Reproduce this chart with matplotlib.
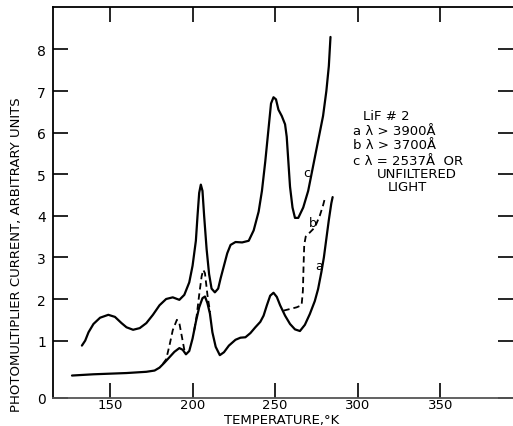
import matplotlib
matplotlib.use("Agg")
import matplotlib.pyplot as plt

# Curve c (2537 A or unfiltered light)
c_T = [133, 135, 137, 140, 144, 149, 153, 157, 160, 164, 168, 172, 176, 180, 184, 188, 192, 195, 198, 200,
       202, 203, 204, 205, 206, 207, 208.5, 210, 211.5, 213.5, 215.5, 217, 219, 221, 223, 226, 230, 234, 237,
       240, 242, 244, 246, 247.5, 249, 250.5, 252, 254, 256, 257, 258, 259, 260.5, 262, 264, 267, 270, 273,
       276, 279, 281, 282.5, 283.5]
c_v = [0.88, 1.0, 1.2, 1.4, 1.55, 1.62, 1.57, 1.42, 1.32, 1.26, 1.3, 1.42, 1.62, 1.85, 2.0, 2.04, 1.98, 2.1,
       2.4, 2.8, 3.4, 4.0, 4.55, 4.75, 4.6, 4.0, 3.2, 2.6, 2.25, 2.16, 2.25, 2.5, 2.8, 3.1, 3.3, 3.37, 3.36,
       3.4, 3.65, 4.1, 4.6, 5.3, 6.1, 6.7, 6.85, 6.8, 6.55, 6.4, 6.2, 5.9, 5.3, 4.7, 4.2, 3.95, 3.95, 4.2, 4.6,
       5.2, 5.8, 6.4, 7.0, 7.6, 8.3]

# Curve a (lambda > 3900 A)
a_T = [127, 140, 160, 172, 177, 180, 183, 186, 189, 192, 194, 196, 198, 200, 202, 204, 206, 207.5, 209,
       210.5, 212, 214, 216.5, 219, 222, 226, 229, 232, 235, 238, 241, 243, 245, 247, 249, 251, 253, 256,
       259, 262, 265, 268, 271, 274, 276, 278, 279.5, 281, 282.5, 284, 284.8]
a_v = [0.16, 0.19, 0.22, 0.25, 0.28, 0.35, 0.47, 0.6, 0.73, 0.82, 0.78, 0.67, 0.75, 1.05, 1.45, 1.8, 2.02,
       2.06, 1.9, 1.65, 1.2, 0.85, 0.65, 0.72, 0.88, 1.02, 1.07, 1.08, 1.18, 1.32, 1.45, 1.6, 1.85, 2.08,
       2.15, 2.05, 1.85, 1.6, 1.4, 1.27, 1.23, 1.38, 1.64, 1.95, 2.24, 2.65, 3.0, 3.45, 3.9, 4.3, 4.45]

# Curve b (lambda > 3700 A), dashed segments where it departs from a
b1_T = [182, 184, 186, 188, 190.5, 192, 193.5, 195, 196]
b1_v = [0.44, 0.55, 0.88, 1.25, 1.5, 1.42, 1.1, 0.78, 0.67]
b2_T = [201, 202.5, 204, 205.5, 206.5, 207.5, 209, 210.6]
b2_v = [1.25, 1.6, 2.1, 2.55, 2.7, 2.62, 2.1, 1.68]
b3_T = [255, 259, 263, 266, 266.8, 267.2, 267.6, 268.5, 271, 274, 277, 279, 280.3]
b3_v = [1.72, 1.76, 1.8, 1.85, 2.2, 2.8, 3.3, 3.5, 3.6, 3.72, 4.0, 4.25, 4.45]

x_ticks = [150, 200, 250, 300, 350]
y_ticks = [1, 2, 3, 4, 5, 6, 7, 8]
y_bottom = -0.38

legend_lines = ["LiF # 2", "a λ > 3900Å", "b λ > 3700Å", "c λ = 2537Å  OR", "UNFILTERED", "LIGHT"]

fig = plt.figure(figsize=(5.13, 4.27), dpi=100)
ax = fig.add_axes([53/513, 28/427, 1 - 53/513, (399 - 8)/427])

lw = 1.6
ax.plot(c_T, c_v, color="black", lw=lw, solid_capstyle="round")
ax.plot(a_T, a_v, color="black", lw=lw, solid_capstyle="round")
for bt, bv in [(b1_T, b1_v), (b2_T, b2_v), (b3_T, b3_v)]:
    ax.plot(bt, bv, color="black", lw=1.3, linestyle=(0, (3.5, 2.2)))

ax.set_xlim(115.5, 394)
ax.set_ylim(y_bottom, 9.02)

ax.set_xticks(x_ticks)
ax.set_xticklabels([str(t) for t in x_ticks])
ax.set_yticks([y_bottom] + y_ticks)
ax.set_yticklabels(["0"] + [str(t) for t in y_ticks])

ax.tick_params(axis="both", which="both", direction="in", length=11, width=1.2,
               labelsize=10, top=True, right=True)
ax.tick_params(axis="y", right=True, labelright=False, pad=5)
ax.tick_params(axis="x", top=True, labeltop=False, pad=0.3, labelsize=9.5)

for s in ["left", "top", "bottom"]:
    ax.spines[s].set_linewidth(1.3)
ax.spines["bottom"].set_color("#555555")
ax.spines["right"].set_visible(False)

fig.text(282 / 513, 1 - 421 / 427, "TEMPERATURE,°K", fontsize=9.5, ha="center", va="center")
fig.text(17 / 513, 1 - 255 / 427, "PHOTOMULTIPLIER CURRENT, ARBITRARY UNITS", fontsize=9.5,
         rotation=90, ha="center", va="center")

# curve labels
ax.text(269.4, 5.05, "c", fontsize=9, ha="center", va="center")
ax.text(272.8, 3.85, "b", fontsize=9, ha="center", va="center")
ax.text(276.7, 2.8, "a", fontsize=9, ha="center", va="center")

# legend block
tx = [363, 352.7, 352.7, 352.7, 376.7, 388]
ty = [116.7, 131.7, 145.7, 161.7, 174.3, 187.5]
for s, px, py in zip(legend_lines, tx, ty):
    fig.text(px / 513, 1 - py / 427, s, fontsize=9.5, ha="left", va="center")

fig.savefig("out.png", dpi=100)
